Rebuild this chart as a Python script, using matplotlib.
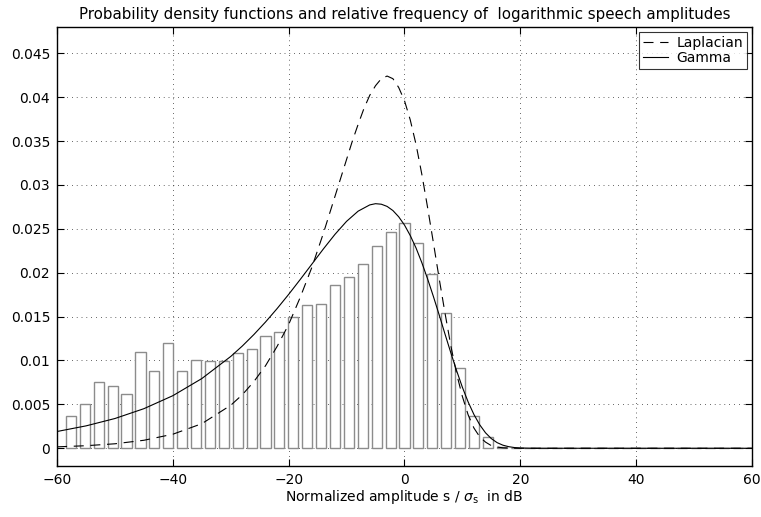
import numpy as np
import matplotlib
matplotlib.use("Agg")
import matplotlib.pyplot as plt

plt.rcParams['font.family'] = ['DejaVu Sans']

# Histogram (relative frequency)
bin_centers = [-57.6, -55.2, -52.8, -50.4, -48.0, -45.6, -43.2, -40.8, -38.4, -36.0,
               -33.6, -31.2, -28.8, -26.4, -24.0, -21.6, -19.2, -16.8, -14.4, -12.0,
               -9.6, -7.2, -4.8, -2.4, 0.0, 2.4, 4.8, 7.2, 9.6, 12.0, 14.4, 16.8,
               19.2, 21.6, 24.0, 26.4, 28.8, 31.2, 33.6, 36.0, 38.4, 40.8, 43.2,
               45.6, 48.0, 50.4, 52.8, 55.2, 57.6]
rel_freq = [0.0037, 0.0050, 0.0076, 0.0071, 0.0062, 0.0110, 0.0088, 0.0120, 0.0088, 0.0100,
            0.0099, 0.0099, 0.0109, 0.0113, 0.0128, 0.0132, 0.0149, 0.0163, 0.0164, 0.0186,
            0.0195, 0.0210, 0.0230, 0.0246, 0.0257, 0.0234, 0.0199, 0.0154, 0.0091, 0.0037,
            0.0013, 0.0002, 0, 0, 0, 0, 0, 0, 0, 0, 0, 0, 0, 0, 0, 0, 0, 0, 0]

# Laplacian pdf
lap_x = [-60, -55, -50, -45, -40, -35, -30, -28, -26, -24, -22, -20, -18, -16, -14,
         -12, -11, -10, -9, -8, -7, -6, -5, -4, -3, -2, -1, 0, 1, 2, 3, 4, 5, 6, 7,
         8, 9, 10, 11, 12, 13, 14, 15, 16, 17, 18, 20, 60]
lap_y = [0.00016, 0.00029, 0.00051, 0.00091, 0.0016, 0.0028, 0.0049, 0.0061, 0.0076,
         0.0094, 0.0116, 0.0141, 0.0172, 0.0206, 0.0245, 0.0287, 0.0308, 0.0329,
         0.0350, 0.0369, 0.0387, 0.0402, 0.0413, 0.0421, 0.0424, 0.0421, 0.0411,
         0.0396, 0.0374, 0.0346, 0.0312, 0.0274, 0.0234, 0.0193, 0.0154, 0.0117,
         0.0085, 0.0059, 0.0038, 0.0023, 0.0013, 0.0007, 0.0003, 0.00014, 0.00005,
         0.00002, 0, 0]

# Gamma pdf
gam_x = [-60, -55, -50, -45, -40, -35, -30, -28, -26, -24, -22, -20, -18, -16, -14,
         -12, -10, -8, -6, -5, -4, -3, -2, -1, 0, 1, 2, 3, 4, 5, 6, 7, 8, 9, 10, 11,
         12, 13, 14, 15, 16, 17, 18, 19, 20, 22, 24, 60]
gam_y = [0.00191, 0.00255, 0.00339, 0.00451, 0.00599, 0.00794, 0.01046, 0.01165,
         0.01296, 0.01438, 0.01591, 0.01753, 0.01923, 0.02097, 0.02271, 0.02437,
         0.02585, 0.02701, 0.02772, 0.02786, 0.02780, 0.02755, 0.02708, 0.02637,
         0.02543, 0.02423, 0.02281, 0.02114, 0.01928, 0.01728, 0.01518, 0.01301,
         0.01089, 0.00885, 0.00695, 0.00527, 0.00384, 0.00267, 0.00176, 0.00110,
         0.00064, 0.00035, 0.00018, 0.00008, 0.00003, 0.000004, 0, 0]

xticks = [-60, -40, -20, 0, 20, 40, 60]
yticks = [0, 0.005, 0.01, 0.015, 0.02, 0.025, 0.03, 0.035, 0.04, 0.045]
ytick_labels = ['0', '0.005', '0.01', '0.015', '0.02', '0.025', '0.03', '0.035', '0.04', '0.045']

fig = plt.figure(figsize=(7.61, 5.17), dpi=100)
ax = fig.add_axes([0.075, 0.099, 0.913, 0.849])

ax.bar(bin_centers, rel_freq, width=1.75, facecolor='white', edgecolor='#8c8c8c',
       linewidth=1.0, zorder=2)
ax.plot(lap_x, lap_y, color='black', linewidth=0.8, linestyle=(0, (9, 6)),
        label='Laplacian', zorder=3)
ax.plot(gam_x, gam_y, color='black', linewidth=0.8, label='Gamma', zorder=3)

ax.set_xlim(-60, 60)
ax.set_ylim(-0.002, 0.048)
ax.set_xticks(xticks)
ax.set_yticks(yticks)
ax.set_yticklabels(ytick_labels)
ax.tick_params(direction='in', top=True, right=True, length=5, width=0.8,
               labelsize=10, pad=5)
ax.grid(True, color='black', linestyle=(0, (0.8, 5)), linewidth=0.6)
ax.set_axisbelow(True)
for s in ax.spines.values():
    s.set_linewidth(1.0)

ax.set_title('Probability density functions and relative frequency of  logarithmic speech amplitudes',
             fontsize=10.8, pad=6)
ax.set_xlabel(r'Normalized amplitude s / $\sigma_\mathrm{s}$  in dB', fontsize=10, labelpad=1)

leg = ax.legend(loc='upper right', fontsize=10, frameon=True, fancybox=False,
                edgecolor='black', handlelength=1.8, borderaxespad=0.35,
                borderpad=0.3, labelspacing=0.05, handletextpad=0.6)
leg.get_frame().set_linewidth(0.8)

fig.savefig('out.png', dpi=100)
